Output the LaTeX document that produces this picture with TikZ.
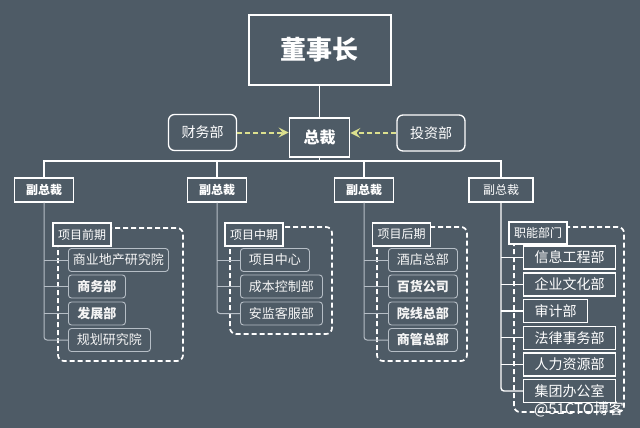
\documentclass[tikz,border=0pt]{standalone}
\usepackage{fontspec}
\setmainfont{Noto Sans CJK SC}
\usetikzlibrary{arrows.meta}
\definecolor{bg}{HTML}{4E5B66}
\definecolor{arr}{HTML}{DCE08E}
\definecolor{frame}{HTML}{B6BEC6}
\newcommand\fsz[1]{\fontsize{#1}{#1}\selectfont}

\begin{document}
\begin{tikzpicture}[x=1pt,y=-1pt,
  box/.style={draw=white,line width=1.5pt,fill=bg,text=white,inner sep=0pt},
  side/.style={box,line width=1.3pt,rounded corners=6pt,minimum width=68pt,minimum height=36pt,font=\fsz{14}},
  vp/.style={box,line width=1.3pt,minimum width=59pt,minimum height=24pt,font=\fsz{12}\bfseries},
  tag/.style={box,line width=1.3pt,minimum width=58pt,minimum height=23pt,font=\fsz{12}},
  item/.style={draw=frame,line width=0.9pt,rounded corners=3pt,fill=bg,text=white!92!gray,inner sep=0pt,minimum height=23pt,anchor=west,font=\fsz{13}},
  dept/.style={box,line width=1.4pt,minimum height=23pt,anchor=west,font=\fsz{14}},
  grp/.style={draw=white,line width=1.7pt,dash pattern=on 5pt off 3pt,rounded corners=6pt},
  link/.style={draw=white,line width=1.2pt},
  twig/.style={draw=frame,line width=1pt,rounded corners=3pt},
  hint/.style={draw=arr,line width=2pt,dash pattern=on 5pt off 3pt,-{Stealth[length=10pt,width=10pt,inset=4pt]}}]
\fill[bg] (0,0) rectangle (640,428);
\draw[grp] (58,228) rectangle (183,361);
\draw[grp] (230,227) rectangle (332,334);
\draw[grp] (377,227) rectangle (467,361);
\draw[grp] (514,227) rectangle (624,412);

\node[box,line width=2pt,minimum width=142pt,minimum height=70pt,font=\fsz{26}\bfseries] (chair) at (319.5,50) {董事长};
\node[box,line width=1.8pt,minimum width=60pt,minimum height=39pt,font=\fsz{16}\bfseries] (ceo) at (319.5,137.5) {总裁};
\node[side] (fin) at (202.5,132.5) {财务部};
\node[side] (inv) at (431,133) {投资部};

\node[vp] (vp1) at (44,190) {副总裁};
\node[vp] (vp2) at (217,190) {副总裁};
\node[vp] (vp3) at (364,190) {副总裁};
\node[vp,minimum width=64pt,font=\fsz{12}] (vp4) at (501,190) {副总裁};

\node[tag] (pre) at (82,234.5) {项目前期};
\node[tag] (mid) at (254,234.5) {项目中期};
\node[tag] (post) at (401.5,234.5) {项目后期};
\node[tag,minimum height=22pt] (func) at (538,233) {职能部门};

\node[item,minimum width=100pt] (pre1) at (68,260) {商业地产研究院};
\node[item,minimum width=57pt,font=\fsz{13}\bfseries] (pre2) at (68,286.5) {商务部};
\node[item,minimum width=57pt,font=\fsz{13}\bfseries] (pre3) at (68,313.5) {发展部};
\node[item,minimum width=82pt] (pre4) at (68,340) {规划研究院};

\node[item,minimum width=69pt] (mid1) at (240,260) {项目中心};
\node[item,minimum width=82pt] (mid2) at (240,286.5) {成本控制部};
\node[item,minimum width=82pt] (mid3) at (240,313.5) {安监客服部};

\node[item,minimum width=69pt] (post1) at (388,260) {酒店总部};
\node[item,minimum width=69pt,font=\fsz{13}\bfseries] (post2) at (388,286.5) {百货公司};
\node[item,minimum width=69pt,font=\fsz{13}\bfseries] (post3) at (388,313.5) {院线总部};
\node[item,minimum width=69pt,font=\fsz{13}\bfseries] (post4) at (388,340) {商管总部};

\node[dept,minimum width=92pt] (fun1) at (523,257.5) {信息工程部};
\node[dept,minimum width=92pt] (fun2) at (523,284.3) {企业文化部};
\node[dept,minimum width=64pt] (fun3) at (523,311) {审计部};
\node[dept,minimum width=92pt] (fun4) at (523,337.7) {法律事务部};
\node[dept,minimum width=92pt] (fun5) at (523,364.4) {人力资源部};
\node[dept,minimum width=92pt] (fun6) at (523,391) {集团办公室};

\node[text=white,font=\fsz{15}] (mark) at (579,409) {@51CTO博客};

\coordinate (bus) at (319.5,161);
\draw[link] (chair.south) -- (ceo.north);
\draw[link] (ceo.south) -- (bus);
\draw[link] (vp1.north) |- (bus) -| (vp4.north);
\draw[link] (vp2.north) -- (vp2.north |- bus);
\draw[link] (vp3.north) -- (vp3.north |- bus);
\draw[hint] (fin.east) -- (ceo.west |- fin.east);
\draw[hint] (inv.west) -- (ceo.east |- inv.west);

\draw[twig] (vp1.south) |- (pre4.west);
\draw[twig] (vp1.south |- pre1.west) -- (pre1.west);
\draw[twig] (vp1.south |- pre2.west) -- (pre2.west);
\draw[twig] (vp1.south |- pre3.west) -- (pre3.west);

\draw[twig] (vp2.south) |- (mid3.west);
\draw[twig] (vp2.south |- mid1.west) -- (mid1.west);
\draw[twig] (vp2.south |- mid2.west) -- (mid2.west);

\draw[twig] (vp3.south) |- (post4.west);
\draw[twig] (vp3.south |- post1.west) -- (post1.west);
\draw[twig] (vp3.south |- post2.west) -- (post2.west);
\draw[twig] (vp3.south |- post3.west) -- (post3.west);

\draw[twig,draw=white,line width=1.4pt] (vp4.south) |- (fun6.west);
\draw[link] (vp4.south |- fun1.west) -- (fun1.west);
\draw[link] (vp4.south |- fun2.west) -- (fun2.west);
\draw[link] (vp4.south |- fun3.west) -- (fun3.west);
\draw[link] (vp4.south |- fun4.west) -- (fun4.west);
\draw[link] (vp4.south |- fun5.west) -- (fun5.west);
\end{tikzpicture}
\end{document}
